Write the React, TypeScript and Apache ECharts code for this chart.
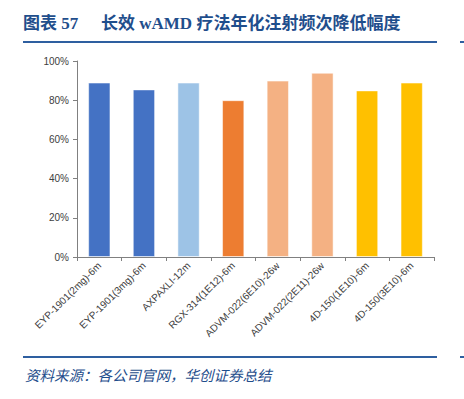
import React, { useEffect, useRef } from "react";
import * as echarts from "echarts";

const categories = [
  "EYP-1901(2mg)-6m",
  "EYP-1901(3mg)-6m",
  "AXPAXLI-12m",
  "RGX-314(1E12)-6m",
  "ADVM-022(6E10)-26w",
  "ADVM-022(2E11)-26w",
  "4D-150(1E10)-6m",
  "4D-150(3E10)-6m",
];
const values = [0.89, 0.855, 0.89, 0.8, 0.9, 0.94, 0.85, 0.89];
const barColors = ["#4472C4", "#4472C4", "#9DC3E6", "#ED7D31", "#F4B183", "#F4B183", "#FFC000", "#FFC000"];
const yTicks = [0, 0.2, 0.4, 0.6, 0.8, 1.0];

const titleLabel = "图表 57";
const titleText = "长效 wAMD 疗法年化注射频次降低幅度";
const sourceText = "资料来源：各公司官网，华创证券总结";

export default function App() {
  const ref = useRef<HTMLDivElement>(null);
  useEffect(() => {
    document.body.style.margin = "0";
    if (!ref.current) return;
    const chart = echarts.init(ref.current, null, { renderer: "svg" });
    const navy = "#1F4E8C";
    chart.setOption({
      animation: false,
      backgroundColor: "#ffffff",
      grid: { left: 77, right: 30, top: 61, bottom: 142 },
      xAxis: {
        type: "category",
        data: categories,
        boundaryGap: true,
        axisLine: { show: true, lineStyle: { color: "#808080", width: 1 } },
        axisTick: { show: true, interval: 0, length: 4, lineStyle: { color: "#808080" } },
        axisLabel: {
          interval: 0,
          rotate: 45,
          fontSize: 10,
          color: "#404040",
          fontFamily: "Liberation Sans, Arial, sans-serif",
          margin: 7,
        },
      },
      yAxis: {
        type: "value",
        min: yTicks[0],
        max: yTicks[yTicks.length - 1],
        interval: 0.2,
        splitLine: { show: false },
        axisLine: { show: true, lineStyle: { color: "#808080", width: 1 } },
        axisTick: { show: true, length: 4, lineStyle: { color: "#808080" } },
        axisLabel: {
          fontSize: 10,
          color: "#404040",
          fontFamily: "Liberation Sans, Arial, sans-serif",
          margin: 8,
          formatter: (v: number) => `${Math.round(v * 100)}%`,
        },
      },
      series: [
        {
          type: "bar",
          barWidth: "50%",
          data: values.map((v, i) => ({
            value: v,
            itemStyle: { color: barColors[i], borderColor: "rgba(255,255,255,0.5)", borderWidth: 1 },
          })),
        },
      ],
      graphic: [
        {
          type: "text",
          left: 23,
          top: 15,
          style: {
            text: titleLabel,
            fontSize: 17,
            fontWeight: "bold",
            fill: navy,
            fontFamily: "Liberation Serif, Noto Sans CJK SC, serif",
          },
        },
        {
          type: "text",
          left: 101,
          top: 15,
          style: {
            text: titleText,
            fontSize: 17,
            fontWeight: "bold",
            fill: navy,
            fontFamily: "Liberation Serif, Noto Sans CJK SC, serif",
          },
        },
        { type: "rect", shape: { x: 23, y: 41, width: 414, height: 2 }, style: { fill: "#2E5FA0" } },
        { type: "rect", shape: { x: 460, y: 41, width: 4, height: 2 }, style: { fill: "#2E5FA0" } },
        { type: "rect", shape: { x: 23, y: 356, width: 414, height: 2 }, style: { fill: "#2E5FA0" } },
        { type: "rect", shape: { x: 460, y: 356, width: 4, height: 2 }, style: { fill: "#2E5FA0" } },
        {
          type: "text",
          left: 25,
          top: 367,
          style: {
            text: sourceText,
            fontSize: 14.5,
            fontStyle: "italic",
            fill: navy,
            fontFamily: "Noto Sans CJK SC, sans-serif",
          },
        },
      ],
    });
    return () => chart.dispose();
  }, []);
  return <div ref={ref} style={{ width: 464, height: 399 }} />;
}
